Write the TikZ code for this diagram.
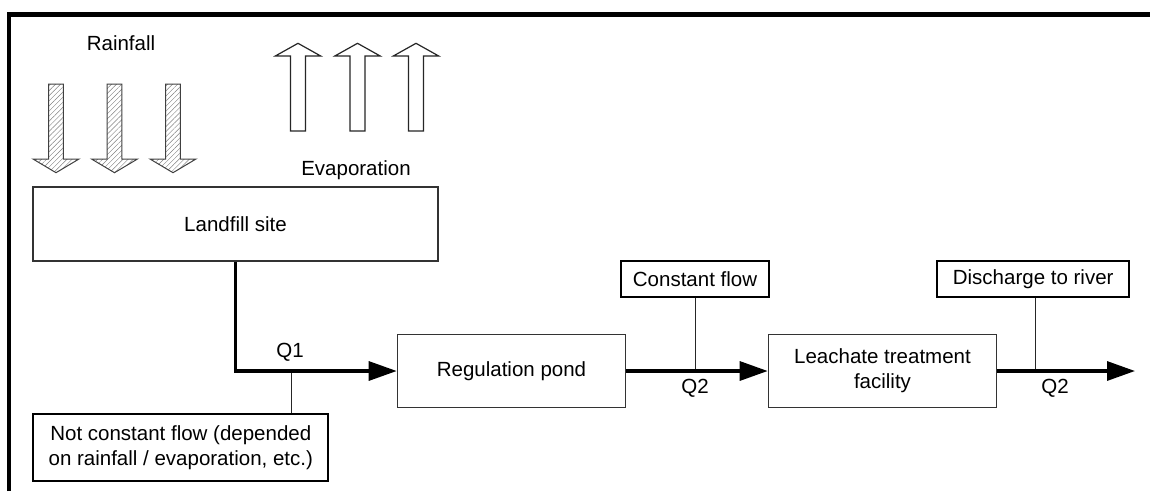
\documentclass[tikz,border=0pt]{standalone}
\usepackage{fontspec}
\setmainfont{Liberation Sans}
\usetikzlibrary{arrows.meta,patterns.meta,calc}
\begin{document}
\begin{tikzpicture}[x=1pt,y=-1pt,
  txt/.style={font=\fontsize{20.5}{25}\selectfont, inner sep=0pt, align=center},
  mainbox/.style={draw=black!80, line width=1.2pt, txt, minimum width=228.4pt, minimum height=73.4pt},
  notebox/.style={draw=black, line width=1.8pt, txt},
  flow/.style={line width=3.2pt, -{Triangle[length=28pt,width=19pt]}},
  tick/.style={line width=1pt, draw=black!85},
  rain/.style={draw=black!75, line width=1pt, pattern={Lines[angle=45,distance=3.6pt,line width=0.45pt]}, pattern color=black!50},
  evap/.style={draw=black!85, line width=1.2pt, fill=white}
]
\useasboundingbox (0,0) rectangle (1150,491);
% frame
\draw[line width=4.3pt] (9.2,491) -- (9.2,14.5) -- (1150,14.5);

% rainfall
\node[txt] (rainlabel) at (121,43) {Rainfall};
\foreach \c in {56,114.5,173}{
  \draw[rain] (\c-7.3,84) -- (\c+7.3,84) -- (\c+7.3,159) -- (\c+23,159) -- (\c,172.7) -- (\c-23,159) -- (\c-7.3,159) -- cycle;
}
% evaporation
\foreach \c in {298,357.5,416}{
  \draw[evap] (\c-7.5,131) -- (\c+7.5,131) -- (\c+7.5,56) -- (\c+22.7,56) -- (\c,43.3) -- (\c-22.7,56) -- (\c-7.5,56) -- cycle;
}
\node[txt] (evaplabel) at (356,170) {Evaporation};

% boxes
\node[mainbox, minimum width=405pt, minimum height=74pt] (landfill) at (235.5,224) {Landfill site};
\node[mainbox] (pond) at (511.5,371) {Regulation pond};
\node[mainbox] (leach) at (882.5,371) {Leachate treatment\\facility};
\node[notebox, minimum width=148pt, minimum height=36.6pt] (cflow) at (695,279) {Constant flow};
\node[notebox, minimum width=191.7pt, minimum height=36.6pt] (river) at (1033.2,279) {Discharge to river};
\node[notebox, minimum width=295pt, minimum height=66.7pt] (notc) at (180.8,447.7) {Not constant flow (depended\\on rainfall / evaporation, etc.)};

% flows
\coordinate (t1) at (291,371);
\coordinate (t2) at (695.3,371);
\coordinate (t3) at (1035,371);
\coordinate (outlet) at (1135,371);
\draw[tick] (t1) -- (t1 |- notc.north);
\draw[tick] (t2) -- (t2 |- cflow.south);
\draw[tick] (t3) -- (t3 |- river.south);
\draw[flow] (landfill.south) |- (pond.west);
\draw[flow] (pond.east) -- (leach.west);
\draw[flow] (leach.east) -- (outlet);

% labels
\node[txt] (q1) at (290,352) {Q1};
\node[txt] (q2a) at (695,388) {Q2};
\node[txt] (q2b) at (1055,388) {Q2};
\end{tikzpicture}
\end{document}
